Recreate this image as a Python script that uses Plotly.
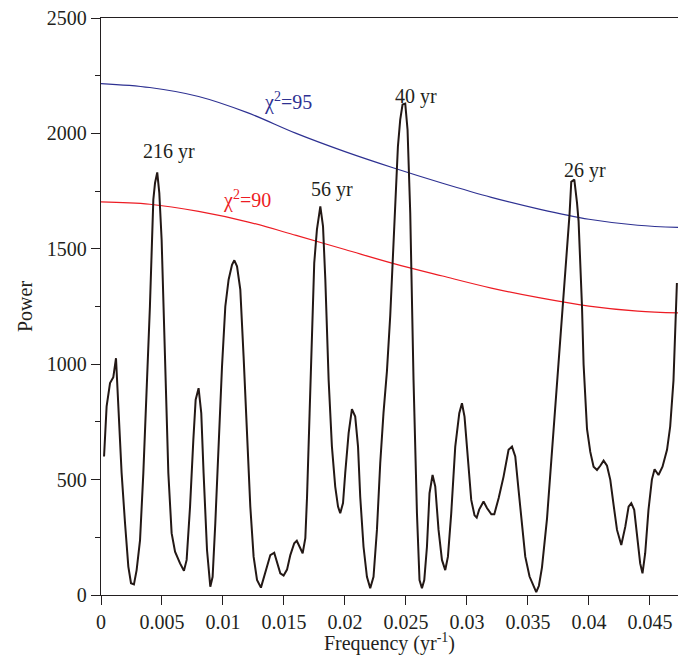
import plotly.graph_objects as go

# Spectrum (frequency in yr^-1, power)
freq = [0.00025, 0.00046, 0.00074, 0.00101, 0.00123, 0.00169, 0.00197, 0.00224, 0.00246, 0.00270,
        0.00292, 0.00320, 0.00347, 0.00374, 0.00401, 0.00429, 0.00443, 0.00461, 0.00478, 0.00497,
        0.00524, 0.00552, 0.00579, 0.00607, 0.00648, 0.00680, 0.00702, 0.00730, 0.00757, 0.00776,
        0.00800, 0.00822, 0.00841, 0.00869, 0.00896, 0.00915, 0.00937, 0.00964, 0.00992, 0.01019,
        0.01046, 0.01074, 0.01093, 0.01115, 0.01142, 0.01169, 0.01197, 0.01224, 0.01251, 0.01279,
        0.01311, 0.01347, 0.01388, 0.01420, 0.01443, 0.01470, 0.01497, 0.01525, 0.01552, 0.01584,
        0.01605, 0.01630, 0.01653, 0.01675, 0.01689, 0.01710, 0.01730, 0.01748, 0.01770, 0.01798,
        0.01820, 0.01839, 0.01866, 0.01893, 0.01920, 0.01943, 0.01961, 0.01984, 0.02002, 0.02030,
        0.02057, 0.02084, 0.02107, 0.02125, 0.02152, 0.02180, 0.02207, 0.02234, 0.02262, 0.02289,
        0.02316, 0.02344, 0.02371, 0.02398, 0.02412, 0.02434, 0.02453, 0.02472, 0.02494, 0.02513,
        0.02535, 0.02562, 0.02590, 0.02611, 0.02631, 0.02650, 0.02672, 0.02693, 0.02718, 0.02740,
        0.02767, 0.02795, 0.02822, 0.02844, 0.02871, 0.02904, 0.02937, 0.02959, 0.02980, 0.03008,
        0.03035, 0.03062, 0.03080, 0.03100, 0.03136, 0.03165, 0.03200, 0.03224, 0.03260, 0.03300,
        0.03341, 0.03369, 0.03396, 0.03423, 0.03451, 0.03478, 0.03513, 0.03546, 0.03568, 0.03590,
        0.03615, 0.03656, 0.03697, 0.03738, 0.03787, 0.03815, 0.03841, 0.03855, 0.03880, 0.03902,
        0.03915, 0.03943, 0.03956, 0.03984, 0.04011, 0.04038, 0.04066, 0.04093, 0.04120, 0.04148,
        0.04175, 0.04202, 0.04230, 0.04265, 0.04298, 0.04325, 0.04347, 0.04371, 0.04398, 0.04420,
        0.04439, 0.04461, 0.04488, 0.04516, 0.04538, 0.04570, 0.04603, 0.04640, 0.04666, 0.04693,
        0.04721]
power = [600, 817, 918, 944, 1026, 528, 311, 123, 51, 46,
         108, 238, 528, 889, 1250, 1713, 1785, 1831, 1742, 1539,
         1033, 528, 268, 188, 137, 105, 152, 383, 672, 846,
         896, 788, 528, 195, 36, 79, 311, 672, 990, 1250,
         1366, 1431, 1450, 1424, 1323, 1033, 672, 383, 166, 65,
         32, 94, 173, 183, 144, 94, 84, 110, 173, 224,
         235, 205, 181, 246, 426, 788, 1149, 1438, 1583, 1684,
         1597, 1366, 932, 643, 470, 383, 354, 398, 528, 701,
         805, 773, 643, 426, 209, 79, 29, 79, 282, 571,
         790, 970, 1210, 1550, 1740, 1944, 2060, 2125, 2129, 2016,
         1655, 932, 354, 65, 29, 65, 209, 441, 520, 470,
         282, 152, 108, 166, 354, 643, 788, 831, 773, 571,
         412, 345, 335, 370, 405, 376, 350, 350, 420, 513,
         629, 643, 600, 455, 296, 166, 80, 35, 12, 40,
         120, 330, 620, 900, 1262, 1480, 1650, 1790, 1800, 1700,
         1620, 1250, 1000, 720, 620, 556, 542, 560, 582, 560,
         499, 390, 282, 217, 296, 383, 398, 369, 224, 137,
         94, 181, 369, 500, 545, 520, 556, 629, 730, 930,
         1352]

# Confidence curves
conf_freq = [0.0, 0.004, 0.008, 0.012, 0.016, 0.020, 0.024, 0.028, 0.032, 0.036, 0.040, 0.044, 0.0473]
conf95 = [2216, 2199, 2160, 2090, 2000, 1921, 1850, 1784, 1723, 1671, 1628, 1602, 1593]
conf90 = [1703, 1693, 1662, 1617, 1558, 1497, 1436, 1382, 1330, 1287, 1252, 1230, 1222]

# Tick labels
x_tickvals = [0, 0.005, 0.01, 0.015, 0.02, 0.025, 0.03, 0.035, 0.04, 0.045]
x_ticktext = ["0", "0.005", "0.01", "0.015", "0.02", "0.025", "0.03", "0.035", "0.04", "0.045"]
y_tickvals = [0, 500, 1000, 1500, 2000, 2500]

# Peak labels
peak_labels = ["216 yr", "56 yr", "40 yr", "26 yr"]
peak_x = [0.0056, 0.01893, 0.02585, 0.0397]
peak_y = [1921, 1756, 2162, 1839]

FONT = "Liberation Serif"
TXT = "#231f20"
FS = 20

fig = go.Figure()
fig.add_trace(go.Scatter(x=conf_freq, y=conf95, mode="lines", line=dict(color="#2e3192", width=1.2,
                         shape="spline", smoothing=1.0), hoverinfo="skip", showlegend=False))
fig.add_trace(go.Scatter(x=conf_freq, y=conf90, mode="lines", line=dict(color="#ed1c24", width=1.2,
                         shape="spline", smoothing=1.0), hoverinfo="skip", showlegend=False))
fig.add_trace(go.Scatter(x=freq, y=power, mode="lines", line=dict(color="#231815", width=2),
                         showlegend=False))

for t, x, y in zip(peak_labels, peak_x, peak_y):
    fig.add_annotation(x=x, y=y, text=t, showarrow=False, font=dict(family=FONT, size=FS, color=TXT),
                       xanchor="center", yanchor="middle")

fig.add_annotation(x=0.01531, y=2140, text="χ<sup>2</sup>=95", showarrow=False,
                   font=dict(family=FONT, size=FS, color="#2e3192"), xanchor="center", yanchor="middle")
fig.add_annotation(x=0.0120, y=1713, text="χ<sup>2</sup>=90", showarrow=False,
                   font=dict(family=FONT, size=FS, color="#ed1c24"), xanchor="center", yanchor="middle")

axis_common = dict(showline=True, linecolor=TXT, linewidth=1.3, mirror=True, showgrid=False,
                   zeroline=False, ticks="outside", ticklen=9, tickwidth=1.3, tickcolor=TXT,
                   automargin=False, ticklabeloverflow="allow",
                   tickfont=dict(family=FONT, size=FS, color=TXT))

fig.update_xaxes(range=[0, 0.0473], tickvals=x_tickvals, ticktext=x_ticktext,
                 title=dict(text="Frequency (yr<sup>-1</sup>)", font=dict(family=FONT, size=FS, color=TXT),
                            standoff=2),
                 **axis_common)
fig.update_yaxes(range=[0, 2500], tickvals=y_tickvals,
                 minor=dict(ticks="outside", ticklen=5, tickwidth=1.3, tickcolor=TXT, dtick=250, showgrid=False),
                 title=dict(text="Power", font=dict(family=FONT, size=FS, color=TXT), standoff=8),
                 **axis_common)

# page body has an 8px default margin, so the figure is offset by (8, 8)
fig.update_layout(width=678, height=647, margin=dict(l=93, r=8, t=10, b=60),
                  plot_bgcolor="white", paper_bgcolor="white")

fig.write_html("out.html")
